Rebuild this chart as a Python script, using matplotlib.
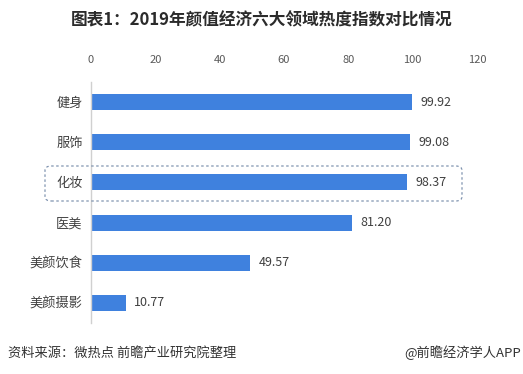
import matplotlib
matplotlib.use("Agg")
import matplotlib.pyplot as plt
from matplotlib.patches import FancyBboxPatch

plt.rcParams['font.family'] = ['Noto Sans CJK SC', 'DejaVu Sans']

# data
categories = ['健身', '服饰', '化妆', '医美', '美颜饮食', '美颜摄影']
values = [99.92, 99.08, 98.37, 81.20, 49.57, 10.77]
xticks = [0, 20, 40, 60, 80, 100, 120]

W, H = 523, 374
fig = plt.figure(figsize=(W / 100, H / 100), dpi=100)
fig.patch.set_facecolor('white')

# axes placed in pixel terms
left, right, top, bottom = 91, 477, 82, 323
ax = fig.add_axes([left / W, 1 - bottom / H, (right - left) / W, (bottom - top) / H])

ypos = list(range(len(categories)))
ax.barh(ypos, values, height=0.4, color='#3F81DE')
ax.set_ylim(len(categories) - 0.5, -0.5)
ax.set_xlim(0, 120)

ax.set_yticks(ypos)
ax.set_yticklabels(categories, fontsize=9.5, color='#404040')
ax.set_xticks(xticks)
ax.set_xticklabels([str(t) for t in xticks], fontsize=8, color='#595959')
ax.xaxis.tick_top()
ax.tick_params(axis='both', length=0)
ax.tick_params(axis='x', pad=12)
ax.tick_params(axis='y', pad=6)

for s in ['top', 'right', 'bottom']:
    ax.spines[s].set_visible(False)
ax.spines['left'].set_color('#D0D0D0')
ax.spines['left'].set_linewidth(1)

for y, v in zip(ypos, values):
    ax.annotate(f'{v:.2f}', xy=(v, y), xytext=(6, 0), textcoords='offset points',
                va='center', ha='left', fontsize=9, color='#404040')

# dashed highlight box around 化妆
box = FancyBboxPatch((45 / W, 1 - 201 / H), (462 - 45) / W, (201 - 166) / H,
                     boxstyle='round,pad=0,rounding_size=0.012',
                     transform=fig.transFigure, fill=False,
                     edgecolor='#8094B0', linestyle=(0, (2, 2)), linewidth=0.9)
fig.patches.append(box)

# titles and footer
fig.text(0.5, 1 - 20 / H, '图表1：2019年颜值经济六大领域热度指数对比情况',
         ha='center', va='center', fontsize=12, fontweight='bold', color='#2B2B2B')
fig.text(8 / W, 1 - 353 / H, '资料来源：微热点 前瞻产业研究院整理',
         ha='left', va='center', fontsize=9.5, color='#333333')
fig.text(521 / W, 1 - 353 / H, '@前瞻经济学人APP',
         ha='right', va='center', fontsize=9.5, color='#333333')

fig.savefig('out.png', dpi=100)
